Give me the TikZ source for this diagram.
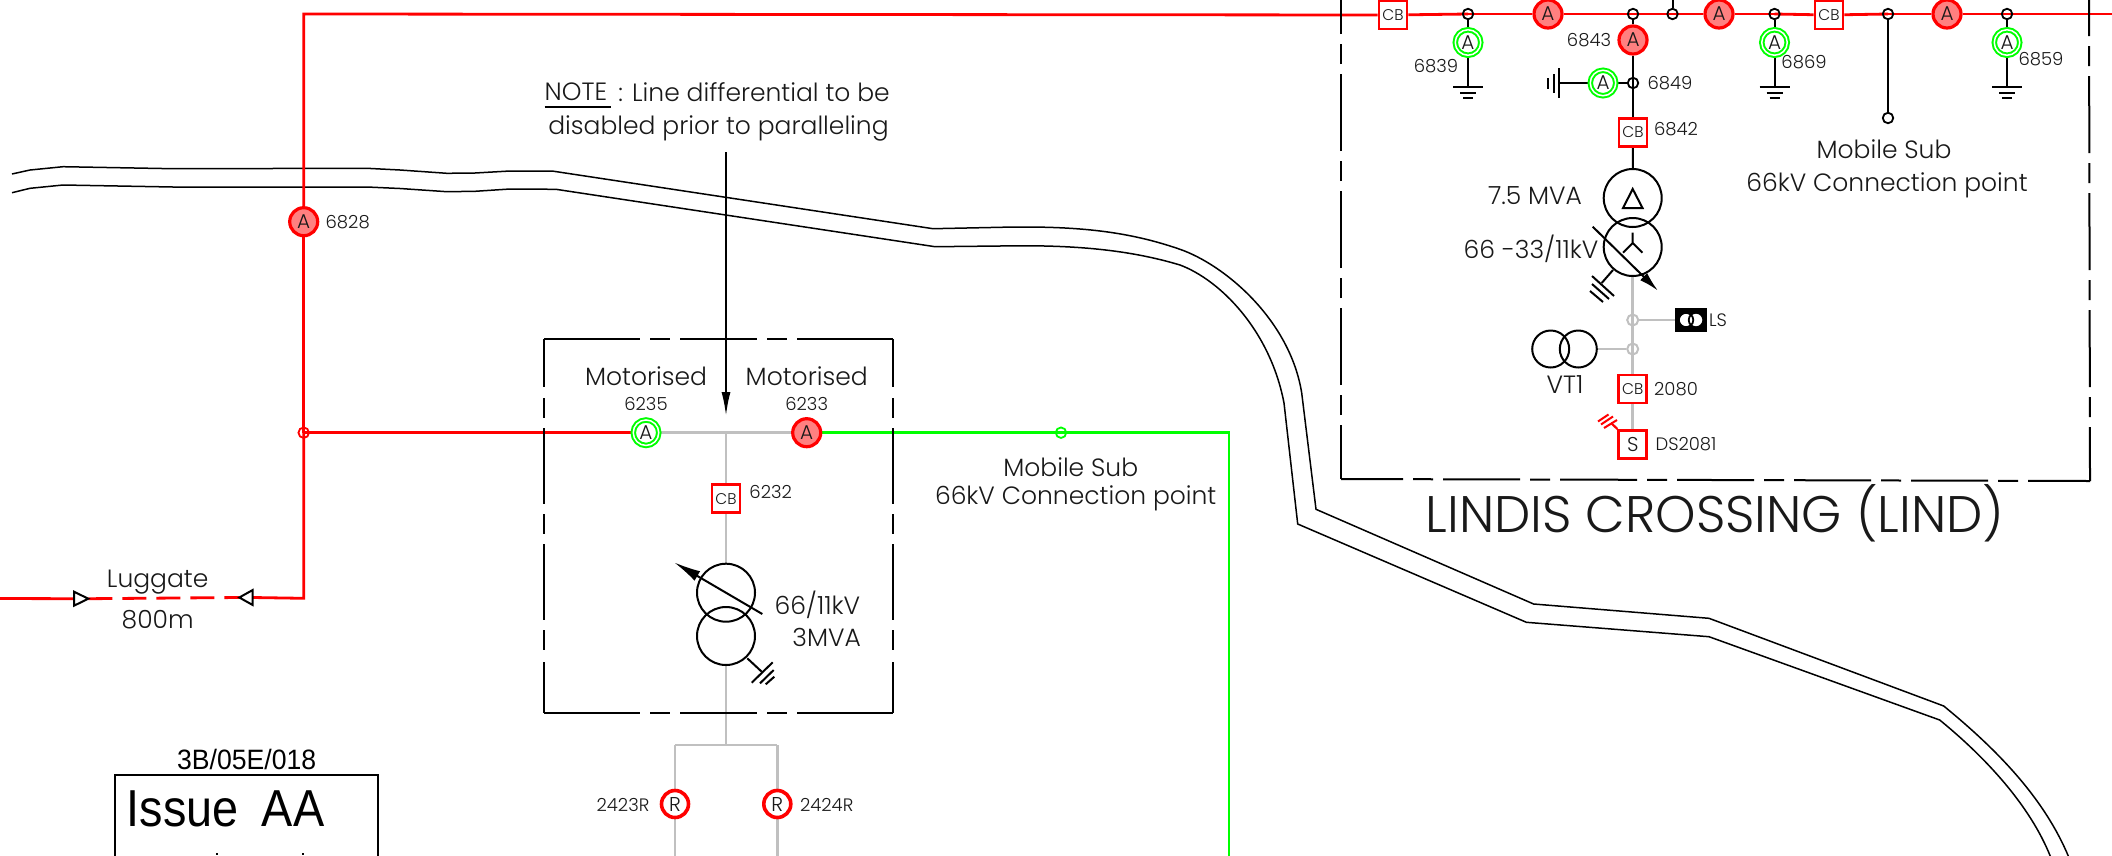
\documentclass[tikz,border=0pt]{standalone}
\usepackage{fontspec}
\setmainfont{Poppins}[UprightFont=* Light]
\newfontfamily\isofont{Liberation Sans}
\usetikzlibrary{arrows.meta,backgrounds,calc}
\definecolor{rline}{RGB}{255,0,0}
\definecolor{gline}{RGB}{0,255,0}
\definecolor{gyline}{RGB}{192,192,192}
\definecolor{pinkfill}{RGB}{255,128,128}
\definecolor{inkc}{RGB}{25,25,25}
\newcommand{\fsz}[1]{\fontsize{#1}{#1}\selectfont}
\newcommand{\earthdn}[1]{%
  \draw[blk] ($(#1)+(-15,0)$) -- ++(30,0) ($(#1)+(-8,5.5)$) -- ++(16,0) ($(#1)+(-5,11)$) -- ++(10,0);}
\tikzset{
  blk/.style={black,line width=2pt},
  thin road/.style={black,line width=1.5pt,line join=miter},
  redw/.style={rline,line width=2.8pt},
  grnw/.style={gline,line width=2.8pt},
  gryw/.style={gyline,line width=2.8pt},
  txt/.style={inner sep=0pt,text=inkc,font=\fsz{25}},
  num/.style={inner sep=0pt,text=inkc,font=\fsz{18}},
  ared/.style={circle,draw=rline,line width=3.2pt,fill=pinkfill,minimum size=28pt,inner sep=0pt,text=inkc,font=\fsz{20}},
  agrn/.style={circle,draw=gline,line width=2pt,double=white,double distance=1.5pt,fill=white,minimum size=25.5pt,inner sep=0pt,text=inkc,font=\fsz{20}},
  rnode/.style={circle,draw=rline,line width=3.6pt,fill=white,minimum size=27pt,inner sep=0pt,text=inkc,font=\fsz{20}},
  cbbox/.style={rectangle,draw=rline,line width=2.6pt,fill=white,minimum size=28pt,inner sep=0pt,text=inkc,font=\fsz{15.5}},
  dotk/.style={circle,draw=black,line width=1.8pt,minimum size=10.5pt,inner sep=0pt},
  dotr/.style={circle,draw=rline,line width=1.8pt,minimum size=10.5pt,inner sep=0pt},
  dotg/.style={circle,draw=gline,line width=1.8pt,minimum size=10.5pt,inner sep=0pt},
  dotgy/.style={circle,draw=gyline,line width=2pt,minimum size=11pt,inner sep=0pt},
  xformer/.style={circle,draw=black,line width=2pt,minimum size=58pt,inner sep=0pt},
  vtcirc/.style={circle,draw=black,line width=2pt,minimum size=37pt,inner sep=0pt},
  stationdash/.style={black,line width=2pt,dash pattern=on 77pt off 10pt on 20pt off 10pt},
}
\begin{document}
\begin{tikzpicture}[x=1pt,y=-1pt]
\useasboundingbox (0,0) rectangle (2112,855);
\clip (0,0) rectangle (2112,855);

\begin{scope}[on background layer]
\fill[white] (0,0) rectangle (2112,855);
% road
\draw[thin road] (12,174) -- (30,170) -- (63,166.7) -- (173,168.7) -- (367,168.3) -- (400,170) -- (447,173.3) -- (475,173) -- (510,171) -- (552,171) -- (933,228.7) -- (1000,227.3)
  .. controls (1080,225.5) and (1130,232) .. (1180,249.3)
  .. controls (1225,265) and (1290,320) .. (1301.7,393) -- (1316,509.3) -- (1533.6,604) -- (1709,618.3) -- (1943.7,706)
  .. controls (2000,752) and (2045,800) .. (2068.7,857);
\draw[thin road] (12,192.7) -- (30,188.3) -- (63,185) -- (173,187) -- (367,187) -- (400,188.5) -- (447,191.7) -- (475,191.3) -- (510,189) -- (556,189.3) -- (935,246.7) -- (1000,246)
  .. controls (1075,244.5) and (1130,250) .. (1180,265)
  .. controls (1220,280) and (1270,330) .. (1284,403) -- (1297.7,524) -- (1526.4,622.3) -- (1709,636.7) -- (1939.7,720)
  .. controls (1985,757) and (2030,805) .. (2050.6,857);
\end{scope}

% station outlines
\coordinate (lbl) at (1341,479);
\coordinate (lbr) at (2090,481);
\coordinate (ltl) at (1341,-2);
\coordinate (ltr) at (2089,-2);
\draw[stationdash,dash phase=23pt] (lbl) -- (ltl);
\draw[stationdash,dash phase=23pt] (lbr) -- (ltr);
\draw[stationdash,dash phase=15pt] (lbl) -- (lbr);

\coordinate (sbtl) at (544,339);
\coordinate (sbtr) at (893.3,339);
\coordinate (sbbl) at (544,713.3);
\coordinate (sbbr) at (893.3,713.3);
\draw[black,line width=2pt,dash pattern=on 96pt off 10pt on 20pt off 10pt on 77pt off 10pt on 20pt off 10pt on 100pt] (sbtl) -- (sbtr);
\draw[black,line width=2pt,dash pattern=on 96pt off 10pt on 20pt off 10pt on 77pt off 10pt on 20pt off 10pt on 100pt] (sbbl) -- (sbbr);
\draw[black,line width=2pt,dash pattern=on 48pt off 11pt on 20pt off 10pt on 76pt off 10pt on 20pt off 10pt on 76pt off 10pt on 20pt off 12pt on 60pt] (sbtl) -- (sbbl);
\draw[black,line width=2pt,dash pattern=on 48pt off 11pt on 20pt off 10pt on 76pt off 10pt on 20pt off 10pt on 76pt off 10pt on 20pt off 12pt on 60pt] (sbtr) -- (sbbr);

% ---- Lindis bus nodes
\node[cbbox] (cbA) at (1393,15) {CB};
\node[dotk] (d1) at (1468,14) {};
\node[ared] (aR1) at (1548,14) {A};
\node[dotk] (d2) at (1633,14) {};
\node[dotk] (d2b) at (1672.5,14) {};
\node[ared] (aR2) at (1719,14) {A};
\node[dotk] (d3) at (1774.5,14) {};
\node[cbbox] (cbB) at (1829,15) {CB};
\node[dotk] (d4) at (1888,14) {};
\node[ared] (aR3) at (1947,14) {A};
\node[dotk] (d5) at (2007,14) {};
\node[agrn] (g1) at (1468,42.5) {A};
\node[agrn] (g2) at (1774.5,42.5) {A};
\node[agrn] (g3) at (2007,42.5) {A};
\node[num] (t6839) at (1436,66) {6839};
\node[num] (t6869) at (1804,62) {6869};
\node[num] (t6859) at (2041,59) {6859};
\coordinate (e1) at (1468,87);
\coordinate (e2) at (1774.5,87);
\coordinate (e3) at (2007,87);
\earthdn{e1}\earthdn{e2}\earthdn{e3}
\node[dotk] (d4b) at (1888,118) {};
\node[txt] (ms1) at (1884,149.5) {Mobile Sub};
\node[txt] (ms2) at (1887,185) {66kV Connection point};
\coordinate (topedge) at (1672.5,-2);
\coordinate (rightedge) at (2114,14);

\node[ared] (a6843) at (1633,40) {A};
\node[num] (t6843) at (1589,40) {6843};
\node[dotk] (d6849) at (1633,83) {};
\node[num] (t6849) at (1670,83) {6849};
\node[agrn] (g4) at (1603,83) {A};
\coordinate (e4) at (1559,83);
\draw[blk] (1559,68) -- (1559,98) (1553.5,74) -- (1553.5,93) (1548,78) -- (1548,89);
\node[cbbox] (cb6842) at (1633,132.5) {CB};
\node[num] (t6842) at (1676,129) {6842};
\node[xformer] (txA) at (1632.7,198) {};
\node[xformer] (txB) at (1632.7,247) {};
\node[txt] (t75) at (1535,196) {7.5 MVA};
\node[txt] (t66) at (1531,249) {66 -33/11kV};
\draw[blk,line join=miter] (1632.7,189) -- (1623,208) -- (1642.5,208) -- cycle;
\draw[blk] (1632.7,232.7) -- (1632.7,243) -- (1623,252.7) (1632.7,243) -- (1642.5,252.7);
\coordinate (arS) at (1592.7,226.7);
\coordinate (arE) at (1658,290.7);
\draw[blk,-{Latex[length=20pt,width=10pt]}] (arS) -- (arE);
\coordinate (gbA) at (1613,270);
\coordinate (gbB) at (1601.7,283);
\draw[blk] (gbA) -- (gbB);
\draw[blk] (1592,276) -- (1614,296) (1592,284) -- (1609,299) (1590,291) -- (1603,302);

\node[dotgy] (dLS) at (1632.7,320) {};
\node[dotgy] (dVT) at (1632.7,349) {};
\node[rectangle,fill=black,minimum width=31.5pt,minimum height=23.5pt,inner sep=0pt] (lsbox) at (1691,320) {};
\node[circle,draw=black,fill=white,line width=1.8pt,minimum size=14.5pt,inner sep=0pt] (lsc1) at (1686,320) {};
\node[circle,draw=black,line width=1.8pt,fill=white,minimum size=14.5pt,inner sep=0pt] (lsc2) at (1696,320) {};
\draw[black,line width=1.8pt] (1686,320) circle (7.25pt);
\node[num] (tLS) at (1718,320) {LS};
\node[vtcirc] (vt1) at (1550.7,349) {};
\node[vtcirc] (vt2) at (1578.3,349) {};
\node[txt] (tVT) at (1565,385) {VT1};
\node[cbbox] (cb2080) at (1632.7,389) {CB};
\node[num] (t2080) at (1676,389) {2080};
\node[cbbox,font=\fsz{20}] (sw) at (1632.7,444.3) {S};
\node[num] (tDS) at (1686,444) {DS2081};
\coordinate (rE) at (1611,423);
\draw[rline,line width=2pt] (1604,428) -- (1617,420) (1601,424.5) -- (1613,416.5) (1598,421.5) -- (1608.5,414.5);

\node[txt,font=\fsz{51.4}] (tLind) at (1715,513) {LINDIS CROSSING (LIND)};

% ---- Left substation
\node[ared] (a6828) at (303.7,221.7) {A};
\node[num] (t6828) at (347.7,222) {6828};
\node[dotr] (rdot) at (303.7,432.7) {};
\node[agrn] (a6235) at (646,432.7) {A};
\node[ared] (a6233) at (806.7,432.7) {A};
\node[num] (t6235) at (646,404) {6235};
\node[num] (t6233) at (806.7,404) {6233};
\node[txt] (m1) at (646,376) {Motorised};
\node[txt] (m2) at (806.7,376) {Motorised};
\node[dotg] (gdot) at (1061,432.7) {};
\node[txt] (ms3) at (1070.7,467.7) {Mobile Sub};
\node[txt] (ms4) at (1075.7,498) {66kV Connection point};
\coordinate (gc) at (1229,432.7);
\coordinate (gb) at (1229,857);
\coordinate (tee) at (726,432.7);
\node[cbbox] (cb6232) at (726,498.6) {CB};
\node[num] (t6232) at (770.7,492) {6232};
\node[xformer] (tyA) at (726,592.7) {};
\node[xformer] (tyB) at (726,636) {};
\coordinate (aS) at (762.3,614);
\coordinate (aE) at (674,562.3);
\draw[blk,-{Latex[length=27pt,width=11pt]}] (aS) -- (aE);
\node[txt] (t6611) at (817.3,605) {66/11kV};
\node[txt] (t3mva) at (826.7,637.5) {3MVA};
\coordinate (geA) at (747.3,658.3);
\coordinate (geB) at (761.7,671.7);
\draw[blk] (geA) -- (geB);
\draw[blk] (751.7,682.7) -- (772.7,662.3) (760,683.3) -- (773.7,670) (765.7,684.3) -- (774.3,676.7);
\coordinate (tsplit) at (726,745);
\coordinate (tl) at (675,745);
\coordinate (tr) at (777.3,745);
\node[rnode] (r1) at (675,804) {R};
\node[rnode] (r2) at (777.3,804) {R};
\node[num] (t2423) at (623,805) {2423R};
\node[num] (t2424) at (826.7,805) {2424R};
\coordinate (r1b) at (675,857);
\coordinate (r2b) at (777.3,857);

% note
\node[txt,anchor=west] (n1a) at (544.5,92) {NOTE};
\node[txt,anchor=east] (n1b) at (890,92) {: Line differential to be};
\node[txt] (n2) at (718.5,128) {disabled prior to paralleling};
\coordinate (ulA) at (544.5,107);
\coordinate (ulB) at (610.6,107);
\draw[black,line width=1.8pt] (ulA) -- (ulB);
\coordinate (noteS) at (726,152);
\coordinate (noteE) at (726,416);
\draw[blk,-{Latex[length=24pt,width=9pt]}] (noteS) -- (noteE);

% Luggate
\coordinate (lL) at (-2,598.5);
\coordinate (lT1) at (74,598.7);
\coordinate (lT1p) at (88.3,598.7);
\coordinate (lT2) at (252.7,597.5);
\coordinate (lT2p) at (239.3,597.5);
\coordinate (lC) at (303.7,598.3);
\coordinate (lTop) at (303.7,14);
\draw[blk,line join=miter,fill=white] (lT1p) -- ++(-14.3,7) -- ++(0,-14) -- cycle;
\draw[blk,line join=miter,fill=white] (lT2p) -- ++(13.4,7.5) -- ++(0,-15) -- cycle;
\node[txt] (tLug) at (157.7,582) {Luggate};
\node[txt] (t800) at (157.7,620) {800m};

% Issue box
\coordinate (ib1) at (115.3,857);
\coordinate (ib2) at (115.3,775);
\coordinate (ib3) at (377.7,775);
\coordinate (ib4) at (377.7,857);
\draw[black,line width=2.2pt,line join=miter] (ib1) -- (ib2) -- (ib3) -- (ib4);
\node[inner sep=0pt,text=black,font=\isofont\fsz{28},xscale=0.95] (tRef) at (246.7,759) {3B/05E/018};
\node[inner sep=0pt,text=black,font=\isofont\fsz{52},xscale=0.9] (tIss) at (225.5,809) {Issue\hspace{0.5em}AA};
\draw[black,line width=1.2pt] (217,853) -- (217,855) (303,853) -- (303,855);

% connectors, behind the nodes
\begin{scope}[on background layer]
\draw[redw] (lL) -- (lT1);
\draw[redw,dash pattern=on 24pt off 10pt] (lT1p) -- (lT2p);
\draw[redw,line join=miter] (lT2) -- (lC) -- (rdot.center);
\draw[redw] (rdot.center) -- (a6828);
\draw[redw,line join=miter] (a6828) -- (lTop) -- (cbA);
\draw[redw] (rdot.center) -- (a6235);
\draw[redw] (cbA) -- (d1.center);
\draw[redw] (d1.center) -- (aR1);
\draw[redw] (aR1) -- (d2.center);
\draw[redw] (d2.center) -- (d2b.center);
\draw[redw] (d2b.center) -- (aR2);
\draw[redw] (aR2) -- (d3.center);
\draw[redw] (d3.center) -- (cbB);
\draw[redw] (cbB) -- (d4.center);
\draw[redw] (d4.center) -- (aR3);
\draw[redw] (aR3) -- (d5.center);
\draw[redw] (d5.center) -- (rightedge);
\draw[blk] (d1) -- (g1);
\draw[blk] (g1) -- (e1);
\draw[blk] (d3) -- (g2);
\draw[blk] (g2) -- (e2);
\draw[blk] (d5) -- (g3);
\draw[blk] (g3) -- (e3);
\draw[blk] (d4) -- (d4b);
\draw[blk] (d2b) -- (topedge);
\draw[blk] (d2) -- (a6843);
\draw[blk] (a6843) -- (d6849.center);
\draw[blk] (d6849.center) -- (cb6842);
\draw[blk] (d6849) -- (g4);
\draw[blk] (g4) -- (e4);
\draw[blk] (cb6842) -- (txA);
\draw[gryw] (txB) -- (dLS.center);
\draw[gryw] (dLS.center) -- (dVT.center);
\draw[gryw] (dVT.center) -- (cb2080);
\draw[gryw] (cb2080) -- (sw);
\draw[gryw] (dLS) -- (lsbox);
\draw[gryw] (dVT) -- (vt2);
\draw[rline,line width=2.2pt] (sw.north west) -- (rE);
\draw[gryw] (a6235) -- (a6233);
\draw[grnw] (a6233) -- (gdot.center);
\draw[grnw,line join=miter] (gdot.center) -- (gc) -- (gb);
\draw[gryw] (tee) -- (cb6232);
\draw[gryw] (cb6232) -- (tyA);
\draw[gryw] (tyB) -- (tsplit);
\draw[gryw,line join=miter] (tl) -- (tr);
\draw[gryw] (tl) -- (r1);
\draw[gryw] (tr) -- (r2);
\draw[gryw] (r1) -- (r1b);
\draw[gryw] (r2) -- (r2b);
\end{scope}
\end{tikzpicture}
\end{document}
